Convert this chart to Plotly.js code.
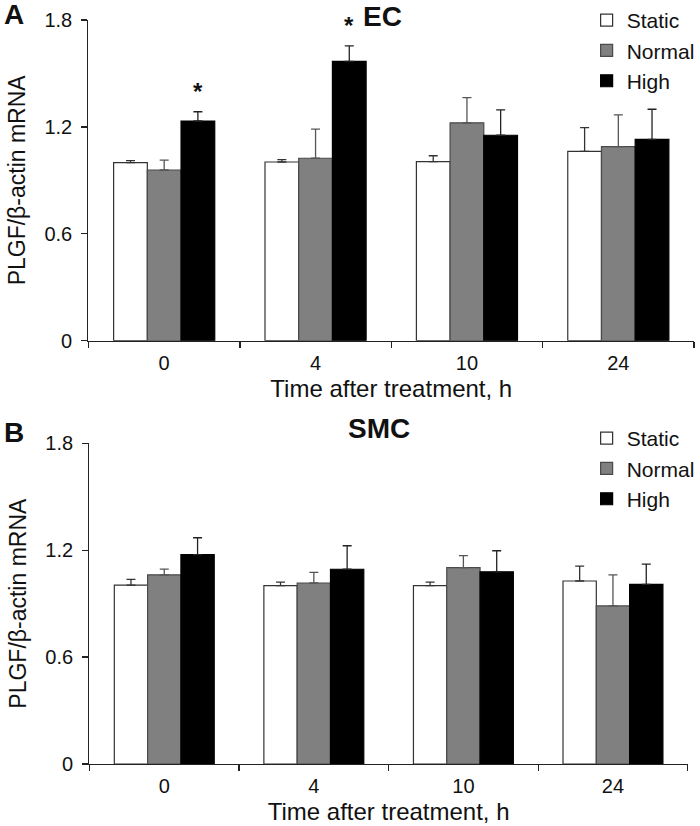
<!DOCTYPE html>
<html>
<head>
<meta charset="utf-8">
<script src="https://cdn.plot.ly/plotly-3.0.1.min.js"></script>
<style>html,body{margin:0;padding:0;background:#fff;}#chart{width:700px;height:826px;}</style>
</head>
<body>
<div id="chart"></div>
<script>
// ---- data ----
const categories = ['0', '4', '10', '24'];
const seriesNames = ['Static', 'Normal', 'High'];

const ecStatic = [1.000, 1.003, 1.005, 1.063];
const ecStaticErr = [0.011, 0.013, 0.033, 0.133];
const ecNormal = [0.958, 1.024, 1.223, 1.089];
const ecNormalErr = [0.056, 0.164, 0.141, 0.179];
const ecHigh = [1.233, 1.568, 1.153, 1.130];
const ecHighErr = [0.052, 0.087, 0.143, 0.169];
const ecHighSig = ['*', '*', '', ''];

const smcStatic = [1.004, 1.001, 1.001, 1.027];
const smcStaticErr = [0.032, 0.020, 0.020, 0.084];
const smcNormal = [1.062, 1.016, 1.102, 0.887];
const smcNormalErr = [0.032, 0.060, 0.067, 0.175];
const smcHigh = [1.175, 1.093, 1.079, 1.008];
const smcHighErr = [0.095, 0.132, 0.118, 0.114];

const yTickVals = [0, 0.6, 1.2, 1.8];
const yTickText = ['0', '0.6', '1.2', '1.8'];

// ---- styling ----
const FONT = 'Liberation Sans, Arial, Helvetica, sans-serif';
const INK = '#111';
const fills = ['#ffffff', '#808080', '#000000'];
const outlines = ['#333333', '#4a4a4a', '#000000'];
const errColors = ['#333333', '#555555', '#222222'];
const BARGAP = 0.332;

function makeTrace(i, y, err, xa, ya, legendId, show) {
  return {
    type: 'bar',
    name: seriesNames[i],
    x: categories,
    y: y,
    xaxis: xa,
    yaxis: ya,
    legend: legendId,
    showlegend: show,
    marker: {color: fills[i], line: {color: outlines[i], width: 1.2}},
    error_y: {
      type: 'data', symmetric: false, array: err,
      arrayminus: err.map(() => 0),
      color: errColors[i], thickness: 1.3, width: 4.5
    },
    hoverinfo: 'x+y+name'
  };
}

const data = [
  makeTrace(0, ecStatic, ecStaticErr, 'x', 'y', 'legend', true),
  makeTrace(1, ecNormal, ecNormalErr, 'x', 'y', 'legend', true),
  makeTrace(2, ecHigh, ecHighErr, 'x', 'y', 'legend', true),
  makeTrace(0, smcStatic, smcStaticErr, 'x2', 'y2', 'legend2', true),
  makeTrace(1, smcNormal, smcNormalErr, 'x2', 'y2', 'legend2', true),
  makeTrace(2, smcHigh, smcHighErr, 'x2', 'y2', 'legend2', true)
];

// significance asterisks placed above High bars via axis coordinates
const barW = (1 - BARGAP) / 3;
const annotations = [];
ecHighSig.forEach((s, k) => {
  if (!s) return;
  annotations.push({
    xref: 'x', yref: 'y',
    x: k + barW, y: ecHigh[k] + ecHighErr[k],
    text: '<b>' + s + '</b>', showarrow: false,
    yanchor: 'bottom', xanchor: 'center', yshift: 5,
    font: {family: FONT, size: 24, color: INK}
  });
});

function paperLabel(text, x, y, size) {
  return {xref: 'paper', yref: 'paper', x: x, y: y, text: '<b>' + text + '</b>',
    showarrow: false, xanchor: 'center', yanchor: 'middle',
    font: {family: FONT, size: size, color: INK}};
}
annotations.push(paperLabel('A', 14 / 700, 1 - 15 / 826, 28));
annotations.push(paperLabel('B', 14 / 700, 1 - 432 / 826, 28));
annotations.push(paperLabel('EC', 385 / 700, 1 - 17 / 826, 28));
annotations.push(paperLabel('SMC', 381 / 700, 1 - 428 / 826, 28));

function yAxis(domain, anchor) {
  return {
    domain: domain, anchor: anchor, range: [0, 1.8],
    tickvals: yTickVals, ticktext: yTickText,
    showline: true, linecolor: '#222', linewidth: 1.3,
    ticks: 'outside', ticklen: 6, tickwidth: 1.3, tickcolor: '#222',
    showgrid: false, zeroline: false, automargin: false,
    tickfont: {family: FONT, size: 20, color: INK},
    ticklabelstandoff: 5,
    title: {text: 'PLGF/β-actin mRNA', font: {family: FONT, size: 23, color: INK}, standoff: 12}
  };
}
function xAxis(domain, anchor) {
  return {
    domain: domain, anchor: anchor, type: 'category',
    showline: true, linecolor: '#222', linewidth: 1.3,
    ticks: 'outside', tickson: 'boundaries', ticklen: 6, tickwidth: 1.3, tickcolor: '#222',
    showgrid: false, zeroline: false, automargin: false,
    tickfont: {family: FONT, size: 20, color: INK},
    ticklabelstandoff: 4,
    title: {text: 'Time after treatment, h', font: {family: FONT, size: 24, color: INK}, standoff: 7}
  };
}

const layout = {
  width: 700, height: 826,
  margin: {l: 0, r: 0, t: 0, b: 0},
  paper_bgcolor: '#fff', plot_bgcolor: '#fff',
  font: {family: FONT, color: INK},
  barmode: 'group', bargap: BARGAP, bargroupgap: 0,
  xaxis: xAxis([89 / 700, 698 / 700], 'y'),
  yaxis: yAxis([1 - 340.7 / 826, 1 - 20 / 826], 'x'),
  xaxis2: xAxis([90 / 700, 691.7 / 700], 'y2'),
  yaxis2: yAxis([1 - 764 / 826, 1 - 443.3 / 826], 'x2'),
  legend: {x: 590 / 700, xanchor: 'left', y: 1, yanchor: 'top', tracegroupgap: 0,
    bgcolor: 'rgba(0,0,0,0)', font: {family: FONT, size: 21, color: INK}, traceorder: 'normal'},
  legend2: {x: 590 / 700, xanchor: 'left', y: 1 - 418 / 826, yanchor: 'top', tracegroupgap: 0,
    bgcolor: 'rgba(0,0,0,0)', font: {family: FONT, size: 21, color: INK}, traceorder: 'normal'},
  annotations: annotations
};

Plotly.newPlot('chart', data, layout, {staticPlot: true, displayModeBar: false});
</script>
</body>
</html>
